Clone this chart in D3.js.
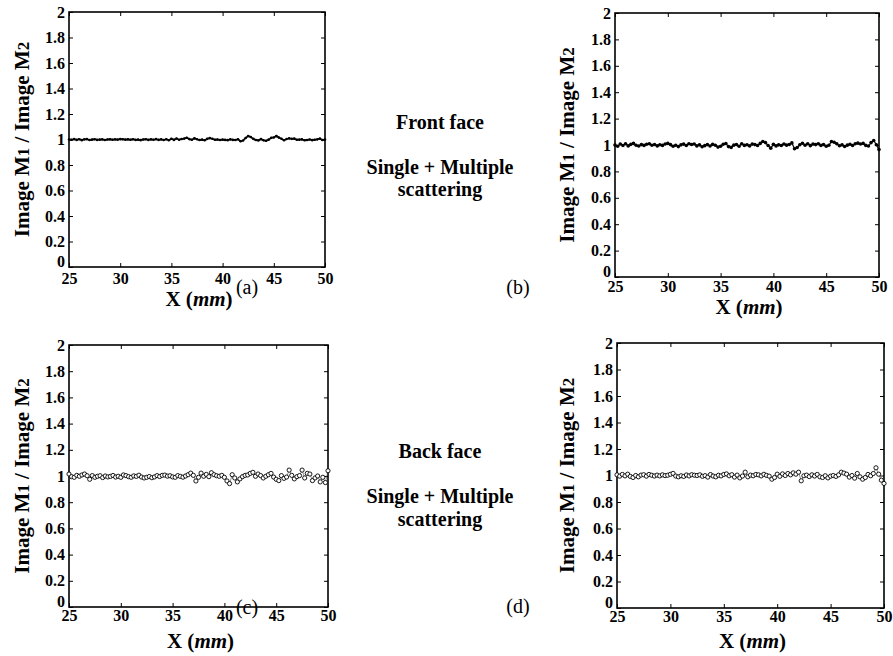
<!DOCTYPE html>
<html>
<head>
<meta charset="utf-8">
<script src="https://cdn.jsdelivr.net/npm/d3@7"></script>
<style>
  body { margin: 0; background: #fff; }
  svg text { font-family: 'Liberation Serif', 'Tinos', 'Times New Roman', 'DejaVu Serif', serif !important; fill: #000; }
</style>
</head>
<body>
<script>
// axis ticks
const xTicks = [25, 30, 35, 40, 45, 50];
const yTicks = [0, 0.2, 0.4, 0.6, 0.8, 1, 1.2, 1.4, 1.6, 1.8, 2];
const yTickLabels = ['0', '0.2', '0.4', '0.6', '0.8', '1', '1.2', '1.4', '1.6', '1.8', '2'];
const xRange = [25, 50];   // mm, samples are evenly spaced over this span

// (a) front face, M1/M2 ratio
const frontA = [
  1.000, 0.998, 1.003, 0.997, 1.002, 0.995, 1.001, 1.003, 0.996, 0.999,
  1.002, 0.997, 0.999, 1.001, 0.996, 1.000, 1.002, 0.998, 1.001, 0.999,
  1.003, 1.002, 0.999, 1.001, 0.998, 1.002, 0.997, 0.999, 0.995, 1.000,
  1.002, 0.997, 1.001, 0.998, 1.003, 0.997, 1.001, 0.996, 1.002, 0.994,
  1.006, 0.997, 1.008, 0.998, 1.004, 1.007, 1.014, 1.003, 0.998, 1.009,
  1.002, 0.996, 0.999, 0.994, 1.005, 1.011, 1.006, 0.998, 1.000, 0.996,
  0.999, 0.997, 0.995, 1.001, 0.997, 0.996, 1.002, 0.986, 0.992, 1.012,
  1.027, 1.020, 1.005, 0.996, 0.993, 1.003, 0.994, 0.990, 0.999, 1.013,
  1.016, 1.028, 1.015, 1.006, 0.994, 1.004, 1.009, 1.005, 1.007, 0.998,
  0.999, 1.001, 0.994, 0.996, 1.000, 0.995, 0.998, 1.001, 1.007, 0.996,
  0.999
];

// (b) front face, second measurement
const frontB = [
  1.000, 0.990, 1.008, 0.996, 1.010, 0.993, 1.005, 1.012, 0.998, 0.992,
  1.003, 0.997, 1.006, 1.010, 0.998, 1.004, 0.993, 1.002, 0.997, 1.008,
  1.012, 1.003, 0.990, 0.998, 0.988, 1.001, 1.007, 0.996, 1.010, 1.004,
  1.008, 0.993, 1.001, 0.987, 0.995, 1.003, 0.992, 1.005, 0.998, 0.984,
  0.990, 1.006, 1.011, 0.988, 0.982, 0.999, 1.004, 0.991, 1.009, 0.997,
  1.002, 0.993, 1.007, 1.003, 0.996, 1.012, 1.026, 1.018, 0.996, 0.976,
  1.005, 0.993, 1.001, 0.996, 1.008, 0.999, 1.004, 1.016, 0.972, 0.981,
  1.002, 1.013, 0.998, 1.010, 0.995, 1.007, 1.003, 1.009, 0.997, 1.004,
  0.991, 0.998, 1.026, 1.021, 1.009, 0.994, 1.001, 0.989, 0.999, 1.006,
  0.996, 1.010, 1.014, 1.008, 1.012, 0.997, 0.992, 1.018, 1.034, 1.002,
  0.965
];

// (c) back face
const backC = [
  1.015, 0.995, 0.990, 1.005, 0.998, 1.008, 1.015, 1.002, 0.975, 1.003,
  0.990, 0.998, 1.002, 0.988, 1.000, 0.993, 0.997, 1.004, 0.992, 0.998,
  0.990, 1.008, 1.003, 0.995, 0.990, 1.001, 0.997, 1.006, 0.992, 0.985,
  0.990, 0.996, 0.987, 0.993, 1.003, 0.996, 1.005, 1.007, 0.999, 1.002,
  0.993, 0.990, 1.003, 0.997, 0.991, 1.000, 1.010, 1.022, 1.005, 0.962,
  0.990, 1.022, 0.998, 1.012, 0.995, 1.025, 1.010, 1.002, 0.998, 1.005,
  0.990, 0.962, 0.942, 1.010, 0.985, 0.955, 0.978, 0.995, 1.005, 1.008,
  1.020, 1.028, 0.998, 1.015, 1.003, 0.985, 0.998, 1.010, 1.020, 0.992,
  0.975, 0.965, 1.003, 0.982, 0.992, 1.045, 1.005, 0.978, 0.995, 1.003,
  1.045, 0.985, 1.020, 1.015, 0.965, 0.985, 1.000, 0.955, 0.990, 0.950,
  1.040
];

// (d) back face, second measurement
const backD = [
  1.005, 0.995, 1.008, 0.997, 1.010, 0.993, 0.985, 1.000, 0.990, 1.003,
  1.006, 0.995, 1.008, 1.002, 0.996, 1.003, 0.997, 1.005, 0.999, 1.002,
  1.009, 1.016, 0.996, 0.990, 0.998, 0.993, 1.004, 0.997, 1.006, 1.002,
  1.000, 1.005, 0.994, 0.999, 0.988, 1.007, 0.996, 0.990, 1.002, 0.997,
  1.008, 1.012, 0.998, 1.006, 0.988, 1.003, 0.982, 0.996, 1.025, 0.990,
  1.003, 0.998, 1.008, 1.005, 0.997, 1.009, 1.001, 0.995, 0.972, 0.985,
  1.010, 0.994, 1.012, 1.000, 1.015, 1.005, 1.020, 1.010, 1.025, 0.960,
  0.998, 1.003, 0.992, 1.005, 0.996, 1.008, 0.990, 0.985, 0.998, 0.982,
  0.995, 1.000, 0.993, 1.005, 1.025, 1.018, 1.010, 0.988, 1.000, 0.980,
  1.015, 0.990, 0.972, 0.985, 1.008, 0.998, 1.015, 1.058, 1.010, 0.965,
  0.940
];

const panelTags = ['(a)', '(b)', '(c)', '(d)'];
const middleTop = ['Front face', 'Single + Multiple', 'scattering'];
const middleBottom = ['Back face', 'Single + Multiple', 'scattering'];

const SERIF = "'Liberation Serif', 'Tinos', 'Times New Roman', 'DejaVu Serif', serif";

// layout of the four boxes (pixels)
const panels = [
  {data: frontA, mark: 'dot',    left: 69,  right: 325, top: 12,  bottom: 267, tickDy: 6, xlabY: 306, ylabX: 22,  tag: [247, 294]},
  {data: frontB, mark: 'dot',    left: 615, right: 879, top: 13,  bottom: 277, tickDy: 4, xlabY: 314, ylabX: 567, tag: [518, 294]},
  {data: backC,  mark: 'circle', left: 69,  right: 328, top: 345, bottom: 607, tickDy: 3, xlabY: 648, ylabX: 22,  tag: [247, 614]},
  {data: backD,  mark: 'circle', left: 617, right: 884, top: 343, bottom: 608, tickDy: 3, xlabY: 648, ylabX: 567, tag: [518, 613]}
];

const svg = d3.select('body').append('svg')
  .attr('width', 893)
  .attr('height', 656)
  .attr('font-family', SERIF)
  .style('background', '#fff');

panels.forEach(function(p, k) {
  const x = d3.scaleLinear().domain(xRange).range([p.left, p.right]);
  const y = d3.scaleLinear().domain([0, 2]).range([p.bottom, p.top]);
  const idx = d3.scaleLinear().domain([0, p.data.length - 1]).range(xRange);
  const pts = p.data.map((v, i) => [idx(i), v]);

  const g = svg.append('g');

  // bottom axis with labels
  g.append('g')
    .attr('transform', 'translate(0,' + p.bottom + ')')
    .call(d3.axisBottom(x).tickValues(xTicks).tickSize(-4).tickSizeOuter(0).tickPadding(p.tickDy))
    .call(a => a.select('.domain').remove());
  // left axis with labels
  g.append('g')
    .attr('transform', 'translate(' + p.left + ',0)')
    .call(d3.axisLeft(y).tickValues(yTicks).tickSize(-4).tickSizeOuter(0).tickPadding(4)
      .tickFormat((d, i) => yTickLabels[i]))
    .call(a => a.select('.domain').remove())
    .call(a => a.selectAll('.tick').filter(d => d === 0).select('text').attr('dy', '-0.05em'));
  // top / right: ticks only
  g.append('g')
    .attr('transform', 'translate(0,' + p.top + ')')
    .call(d3.axisTop(x).tickValues(xTicks).tickSize(-4).tickSizeOuter(0).tickFormat(''))
    .call(a => a.select('.domain').remove());
  g.append('g')
    .attr('transform', 'translate(' + p.right + ',0)')
    .call(d3.axisRight(y).tickValues(yTicks).tickSize(-4).tickSizeOuter(0).tickFormat(''))
    .call(a => a.select('.domain').remove());

  g.selectAll('g').attr('font-family', SERIF);
  g.selectAll('.tick line').attr('stroke', '#000').attr('stroke-width', 1);
  g.selectAll('.tick text')
    .attr('font-size', 16)
    .attr('font-weight', 'bold')
    .attr('fill', '#000');

  // frame
  g.append('rect')
    .attr('x', p.left).attr('y', p.top)
    .attr('width', p.right - p.left).attr('height', p.bottom - p.top)
    .attr('fill', 'none').attr('stroke', '#000').attr('stroke-width', 1.6);

  const line = d3.line().x(d => x(d[0])).y(d => y(d[1]));

  if (p.mark === 'dot') {
    g.append('path').datum(pts)
      .attr('d', line).attr('fill', 'none')
      .attr('stroke', '#111').attr('stroke-width', k === 0 ? 1.8 : 1.3);
    g.selectAll('.pt').data(pts).enter().append('circle')
      .attr('class', 'pt')
      .attr('cx', d => x(d[0])).attr('cy', d => y(d[1]))
      .attr('r', k === 0 ? 1.3 : 1.8).attr('fill', '#000');
  } else {
    g.append('path').datum(pts)
      .attr('d', line).attr('fill', 'none')
      .attr('stroke', '#444').attr('stroke-width', 0.6);
    g.selectAll('.pt').data(pts).enter().append('circle')
      .attr('class', 'pt')
      .attr('cx', d => x(d[0])).attr('cy', d => y(d[1]))
      .attr('r', 2.1).attr('fill', '#fff')
      .attr('stroke', '#000').attr('stroke-width', 0.9);
  }

  // y label
  const ylab = g.append('text')
    .attr('transform', 'translate(' + p.ylabX + ',' + ((p.top + p.bottom) / 2) + ') rotate(-90)')
    .attr('text-anchor', 'middle')
    .attr('dy', '0.35em')
    .attr('font-size', 21)
    .attr('font-weight', 'bold');
  ylab.append('tspan').text('Image M');
  ylab.append('tspan').attr('font-size', 17).text('1');
  ylab.append('tspan').text(' / Image M');
  ylab.append('tspan').attr('font-size', 17).text('2');

  // x label
  const xlab = g.append('text')
    .attr('x', (p.left + p.right) / 2 + 2)
    .attr('y', p.xlabY)
    .attr('text-anchor', 'middle')
    .attr('font-size', 21)
    .attr('font-weight', 'bold');
  xlab.append('tspan').text('X  (');
  xlab.append('tspan').attr('font-style', 'italic').text('mm');
  xlab.append('tspan').text(')');

  // panel tag
  g.append('text')
    .attr('x', p.tag[0]).attr('y', p.tag[1])
    .attr('text-anchor', 'middle')
    .attr('font-size', 20)
    .text(panelTags[k]);
});

// captions between the panels
function caption(lines, ys) {
  svg.selectAll(null).data(lines).enter().append('text')
    .attr('x', 440)
    .attr('y', (d, i) => ys[i])
    .attr('text-anchor', 'middle')
    .attr('font-size', 20)
    .attr('font-weight', 'bold')
    .text(d => d);
}
caption(middleTop, [129, 174, 196]);
caption(middleBottom, [458, 503, 526]);
</script>
</body>
</html>
